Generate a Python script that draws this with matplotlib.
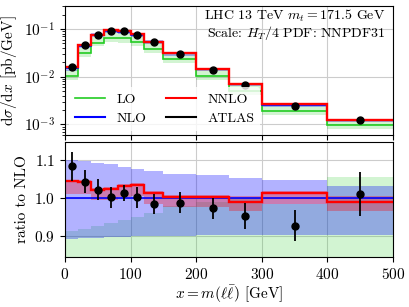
import numpy as np
import matplotlib
matplotlib.use('Agg')
import matplotlib.pyplot as plt
from matplotlib.lines import Line2D

plt.rcParams['font.family'] = 'serif'
plt.rcParams['font.serif'] = ['cmr10', 'DejaVu Serif']
plt.rcParams['mathtext.fontset'] = 'cm'
plt.rcParams['axes.formatter.use_mathtext'] = True
plt.rcParams['font.size'] = 11

# bin edges of m(ll) [GeV]
edges = np.array([0, 20, 40, 60, 80, 100, 120, 150, 200, 250, 300, 400, 500])
centers = np.array([10, 30, 50, 70, 90, 110, 135, 175, 225, 275, 350, 450])

# NLO central prediction [pb/GeV]
nlo = np.array([0.0150, 0.0444, 0.0742, 0.0918, 0.0879, 0.0744,
                0.0536, 0.0307, 0.0143, 0.0070, 0.0026, 0.00125])
# ratios to NLO
nlo_hi = np.array([1.101, 1.098, 1.092, 1.090, 1.082, 1.078,
                   1.073, 1.064, 1.060, 1.054, 1.047, 1.031])
nlo_lo = np.array([0.893, 0.894, 0.895, 0.897, 0.898, 0.899,
                   0.900, 0.901, 0.902, 0.902, 0.902, 0.902])
nnlo_r = np.array([1.045, 1.042, 1.022, 1.025, 1.031, 1.035,
                   1.013, 1.003, 1.004, 0.991, 1.014, 0.990])
nnlo_hi = np.array([1.049, 1.047, 1.028, 1.030, 1.038, 1.040,
                    1.018, 1.008, 1.008, 1.007, 1.018, 1.005])
nnlo_lo = np.array([1.012, 1.010, 0.994, 0.996, 1.004, 1.006,
                    0.985, 0.978, 0.978, 0.966, 0.985, 0.965])
lo_r = np.array([0.69, 0.72, 0.70, 0.72, 0.72, 0.72,
                 0.72, 0.75, 0.73, 0.71, 0.75, 0.77])
lo_hi = np.array([0.914, 0.918, 0.927, 0.935, 0.942, 0.950,
                  0.962, 0.980, 0.990, 1.000, 0.985, 1.057])
lo_lo = np.array([0.57, 0.59, 0.58, 0.59, 0.59, 0.59,
                  0.59, 0.62, 0.60, 0.58, 0.62, 0.64])

# ATLAS data
atlas = np.array([0.0163, 0.0464, 0.0758, 0.0920, 0.0890, 0.0745,
                  0.0528, 0.0303, 0.0139, 0.00666, 0.00242, 0.00126])
atlas_r = np.array([1.084, 1.044, 1.022, 1.002, 1.013, 1.002,
                    0.985, 0.988, 0.973, 0.953, 0.927, 1.012])
atlas_err = np.array([0.039, 0.031, 0.028, 0.027, 0.021, 0.027,
                      0.026, 0.028, 0.027, 0.035, 0.041, 0.058])

c_lo, c_nlo, c_nnlo = '#22cc22', '#0000ff', '#ff0000'

fig = plt.figure(figsize=(4.09, 3.07), dpi=100)
ax1 = fig.add_axes([0.159, 0.560, 0.802, 0.420])
ax2 = fig.add_axes([0.159, 0.163, 0.802, 0.374])

# top panel
ax1.stairs(lo_hi * nlo, edges, baseline=lo_lo * nlo, fill=True, color=c_lo, alpha=0.2, lw=0)
ax1.stairs(nlo_hi * nlo, edges, baseline=nlo_lo * nlo, fill=True, color=c_nlo, alpha=0.3, lw=0)
ax1.stairs(nnlo_hi * nlo, edges, baseline=nnlo_lo * nlo, fill=True, color=c_nnlo, alpha=0.3, lw=0)
ax1.stairs(lo_r * nlo, edges, color=c_lo, lw=1.2, baseline=None)
ax1.stairs(nlo, edges, color=c_nlo, lw=1.2, baseline=None)
ax1.stairs(nnlo_r * nlo, edges, color=c_nnlo, lw=1.7, baseline=None)
ax1.plot(centers, atlas, 'o', color='black', ms=5)
ax1.set_yscale('log')
ax1.set_xlim(0, 500)
ax1.set_ylim(6e-4, 0.3)
ax1.set_xticks([0, 100, 200, 300, 400, 500])
ax1.set_xticklabels([])
ax1.grid(True, color='#cccccc', lw=0.8)
ax1.set_axisbelow(True)
ax1.set_ylabel(r'$\mathrm{d}\sigma/\mathrm{d}x$ [pb/GeV]')
ax1.text(0.975, 0.985, r'LHC 13 TeV $m_t = 171.5$ GeV', transform=ax1.transAxes,
         ha='right', va='top', fontsize=10)
ax1.text(0.975, 0.865, r'Scale: $H_T/4$ PDF: NNPDF31', transform=ax1.transAxes,
         ha='right', va='top', fontsize=10)
handles = [Line2D([], [], color=c_lo, lw=1.2), Line2D([], [], color=c_nlo, lw=1.5),
           Line2D([], [], color=c_nnlo, lw=1.5), Line2D([], [], color='black', lw=1.5)]
ax1.legend(handles, ['LO', 'NLO', 'NNLO', 'ATLAS'], ncol=2, loc='lower left',
           frameon=True, edgecolor='none', framealpha=0.8, fontsize=10,
           columnspacing=1.4, handlelength=2.2, borderaxespad=0.3)

# ratio panel
ax2.stairs(lo_hi, edges, baseline=lo_lo, fill=True, color=c_lo, alpha=0.2, lw=0)
ax2.stairs(nlo_hi, edges, baseline=nlo_lo, fill=True, color=c_nlo, alpha=0.3, lw=0)
ax2.stairs(nnlo_hi, edges, baseline=nnlo_lo, fill=True, color=c_nnlo, alpha=0.3, lw=0)
ax2.stairs(lo_r, edges, color=c_lo, lw=1.2, baseline=None)
ax2.stairs(np.ones_like(nlo), edges, color=c_nlo, lw=1.2, baseline=None)
ax2.stairs(nnlo_r, edges, color=c_nnlo, lw=1.7, baseline=None)
ax2.errorbar(centers, atlas_r, yerr=atlas_err, fmt='o', color='black', ms=5,
             elinewidth=1.3, capsize=0)
ax2.set_xlim(0, 500)
ax2.set_ylim(0.845, 1.148)
ax2.set_yticks([0.9, 1.0, 1.1])
ax2.set_xticks([0, 100, 200, 300, 400, 500])
ax2.grid(True, color='#cccccc', lw=0.8)
ax2.set_axisbelow(True)
ax2.set_ylabel('ratio to NLO')
ax2.set_xlabel(r'$x = m(\ell\bar{\ell})$ [GeV]', labelpad=1)

for ax in (ax1, ax2):
    ax.tick_params(labelsize=11)

fig.savefig('out.png', dpi=100)
